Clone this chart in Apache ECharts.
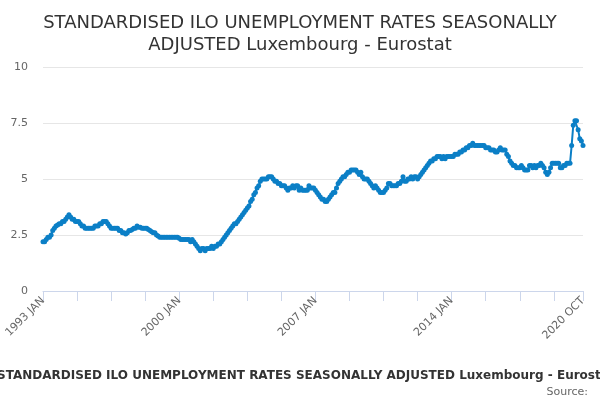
<!DOCTYPE html>
<html>
<head>
<meta charset="utf-8">
<script src="https://cdn.jsdelivr.net/npm/echarts@6/dist/echarts.min.js"></script>
<style>
  html, body { margin: 0; padding: 0; background: #fff; }
  #chart { width: 600px; height: 400px; }
</style>
</head>
<body>
<div id="chart"></div>
<script>
// monthly values, SA unemployment rate (%), one row per year
var startYear = 1993;
var monthNames = ['JAN', 'FEB', 'MAR', 'APR', 'MAY', 'JUN', 'JUL', 'AUG', 'SEP', 'OCT', 'NOV', 'DEC'];
var yTicks = [0, 2.5, 5, 7.5, 10];

var y1993 = [2.2, 2.2, 2.3, 2.4, 2.4, 2.5, 2.7, 2.8, 2.9, 2.95, 3.0, 3.0];
var y1994 = [3.1, 3.1, 3.2, 3.3, 3.4, 3.3, 3.2, 3.2, 3.1, 3.1, 3.1, 3.0];
var y1995 = [2.9, 2.9, 2.8, 2.8, 2.8, 2.8, 2.8, 2.8, 2.9, 2.9, 2.9, 3.0];
var y1996 = [3.0, 3.1, 3.1, 3.1, 3.0, 2.9, 2.8, 2.8, 2.8, 2.8, 2.8, 2.7];
var y1997 = [2.7, 2.6, 2.6, 2.55, 2.6, 2.7, 2.7, 2.75, 2.8, 2.8, 2.9, 2.85];
var y1998 = [2.85, 2.8, 2.8, 2.8, 2.8, 2.75, 2.7, 2.65, 2.6, 2.6, 2.5, 2.45];
var y1999 = [2.4, 2.4, 2.4, 2.4, 2.4, 2.4, 2.4, 2.4, 2.4, 2.4, 2.4, 2.4];
var y2000 = [2.35, 2.3, 2.3, 2.3, 2.3, 2.3, 2.3, 2.2, 2.3, 2.2, 2.1, 2.0];
var y2001 = [1.9, 1.8, 1.9, 1.9, 1.8, 1.9, 1.9, 1.9, 2.0, 1.9, 2.0, 2.0];
var y2002 = [2.1, 2.1, 2.2, 2.3, 2.4, 2.5, 2.6, 2.7, 2.8, 2.9, 3.0, 3.0];
var y2003 = [3.1, 3.2, 3.3, 3.4, 3.5, 3.6, 3.7, 3.8, 4.0, 4.1, 4.3, 4.4];
var y2004 = [4.6, 4.7, 4.9, 5.0, 5.0, 5.0, 5.0, 5.1, 5.1, 5.1, 5.0, 4.9];
var y2005 = [4.9, 4.8, 4.8, 4.7, 4.7, 4.7, 4.6, 4.5, 4.6, 4.6, 4.7, 4.6];
var y2006 = [4.7, 4.7, 4.5, 4.6, 4.5, 4.5, 4.5, 4.5, 4.7, 4.6, 4.6, 4.6];
var y2007 = [4.5, 4.4, 4.3, 4.2, 4.1, 4.1, 4.0, 4.0, 4.1, 4.2, 4.3, 4.4];
var y2008 = [4.4, 4.6, 4.8, 4.9, 5.0, 5.1, 5.1, 5.2, 5.3, 5.3, 5.4, 5.4];
var y2009 = [5.4, 5.4, 5.3, 5.2, 5.3, 5.1, 5.0, 5.0, 5.0, 4.9, 4.8, 4.7];
var y2010 = [4.6, 4.7, 4.6, 4.5, 4.4, 4.4, 4.4, 4.5, 4.6, 4.8, 4.8, 4.7];
var y2011 = [4.7, 4.7, 4.7, 4.8, 4.8, 4.9, 5.1, 4.9, 4.9, 5.0, 5.0, 5.1];
var y2012 = [5.0, 5.1, 5.1, 5.0, 5.1, 5.2, 5.3, 5.4, 5.5, 5.6, 5.7, 5.8];
var y2013 = [5.8, 5.9, 5.9, 6.0, 6.0, 6.0, 5.9, 6.0, 5.9, 6.0, 6.0, 6.0];
var y2014 = [6.0, 6.0, 6.1, 6.1, 6.1, 6.2, 6.2, 6.3, 6.3, 6.4, 6.4, 6.5];
var y2015 = [6.5, 6.6, 6.5, 6.5, 6.5, 6.5, 6.5, 6.5, 6.5, 6.4, 6.4, 6.4];
var y2016 = [6.3, 6.3, 6.3, 6.2, 6.2, 6.3, 6.4, 6.3, 6.3, 6.3, 6.1, 6.0];
var y2017 = [5.8, 5.7, 5.6, 5.6, 5.5, 5.5, 5.5, 5.6, 5.5, 5.4, 5.4, 5.4];
var y2018 = [5.6, 5.6, 5.5, 5.6, 5.5, 5.6, 5.6, 5.7, 5.6, 5.5, 5.3, 5.2];
var y2019 = [5.3, 5.5, 5.7, 5.7, 5.7, 5.7, 5.7, 5.5, 5.5, 5.6, 5.6, 5.7];
var y2020 = [5.7, 5.7, 6.5, 7.4, 7.6, 7.6, 7.2, 6.8, 6.7, 6.5];

var years = [y1993, y1994, y1995, y1996, y1997, y1998, y1999, y2000, y2001, y2002,
  y2003, y2004, y2005, y2006, y2007, y2008, y2009, y2010, y2011, y2012,
  y2013, y2014, y2015, y2016, y2017, y2018, y2019, y2020];

var categories = [];
var values = [];
years.forEach(function(row, yi) {
  row.forEach(function(v, mi) {
    categories.push((startYear + yi) + ' ' + monthNames[mi]);
    values.push(v);
  });
});
var last = categories.length - 1;

var titleText = 'STANDARDISED ILO UNEMPLOYMENT RATES SEASONALLY\nADJUSTED Luxembourg - Eurostat';
var footText = 'STANDARDISED ILO UNEMPLOYMENT RATES SEASONALLY ADJUSTED Luxembourg - Eurostat';

var chart = echarts.init(document.getElementById('chart'));
chart.setOption({
  backgroundColor: '#fff',
  animation: false,
  textStyle: { fontFamily: 'DejaVu Sans' },
  title: [
    { text: titleText, left: 'center', top: 7,
      textStyle: { fontSize: 18, fontWeight: 'normal', color: '#333', lineHeight: 22, fontFamily: 'DejaVu Sans' } },
    { text: footText, left: -8, top: 365,
      textStyle: { fontSize: 12, fontWeight: 'bold', color: '#333', fontFamily: 'DejaVu Sans' } },
    { text: 'Source:', right: 7, top: 382,
      textStyle: { fontSize: 11, fontWeight: 'normal', color: '#666', fontFamily: 'DejaVu Sans' } }
  ],
  grid: { left: 43, right: 17, top: 67, bottom: 109 },
  xAxis: {
    type: 'category',
    data: categories,
    boundaryGap: false,
    axisLine: { lineStyle: { color: '#ccd6eb' } },
    axisTick: { length: 10, lineStyle: { color: '#ccd6eb' },
      interval: function(idx) { return idx % 21 === 0 || idx === last; } },
    axisLabel: { rotate: 45, color: '#666', fontSize: 11, margin: 8,
      interval: function(idx) { return idx % 84 === 0 || idx === last; } },
    splitLine: { show: false }
  },
  yAxis: {
    type: 'value',
    min: yTicks[0],
    max: yTicks[yTicks.length - 1],
    interval: 2.5,
    axisLine: { show: false },
    axisTick: { show: false },
    axisLabel: { color: '#666', fontSize: 11, margin: 15 },
    splitLine: { lineStyle: { color: '#e6e6e6' } }
  },
  series: [{
    type: 'line',
    data: values,
    symbol: 'circle',
    symbolSize: 5,
    showAllSymbol: true,
    lineStyle: { color: '#0b7fc6', width: 2 },
    itemStyle: { color: '#0b7fc6' }
  }]
});
</script>
</body>
</html>
